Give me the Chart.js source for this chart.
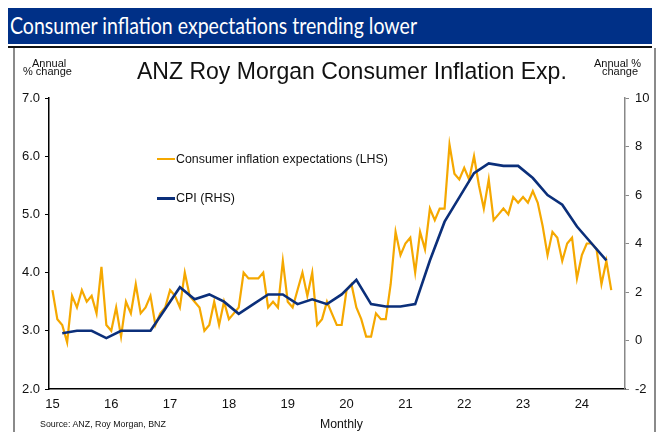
<!DOCTYPE html>
<html>
<head>
<meta charset="utf-8">
<script src="https://cdn.jsdelivr.net/npm/chart.js@4.4.1/dist/chart.umd.min.js"></script>
<style>
  body { margin: 0; background: #fff; }
  #wrap { position: relative; width: 659px; height: 432px; overflow: hidden;
          font-family: "Liberation Sans", Arial, sans-serif; color: #111; }
  #banner { position: absolute; left: 8px; top: 8px; width: 644px; height: 36px; background: #003087; }
  #banner span { position: absolute; left: 2px; top: 5px; color: #fff; font-family: Lato, sans-serif;
                 font-size: 24px; line-height: 1; white-space: nowrap; transform-origin: 0 0; }
  .rule { position: absolute; left: 8px; top: 46px; width: 644px; height: 2px; background: #111; }
  .side { position: absolute; top: 48px; width: 2px; height: 384px; background: #8a8a8a; }
  .t { position: absolute; white-space: nowrap; line-height: 1; }
  .key { position: absolute; height: 2px; width: 18px; }
  canvas { position: absolute; left: 0; top: 0; }
</style>
</head>
<body>
<div id="wrap">
  <div id="banner"><span id="bannerText">Consumer inflation expectations trending lower</span></div>
  <div class="rule"></div>
  <div class="side" style="left:13px"></div>
  <div class="side" style="left:654px"></div>
  <canvas id="chart" width="659" height="432"></canvas>

  <div class="t fit" data-x1="137" data-x2="567" data-cy="71.5">ANZ Roy Morgan Consumer Inflation Exp.</div>
  <div class="t" style="left:32px;top:58px;font-size:11px">Annual</div>
  <div class="t" style="left:23px;top:66px;font-size:11px">% change</div>
  <div class="t" style="left:594px;top:58px;font-size:11px">Annual %</div>
  <div class="t" style="left:602px;top:66px;font-size:11px">change</div>

  <div class="key" style="left:157px;top:158px;background:#F5A800"></div>
  <div class="t fit" data-x1="176" data-x2="388" data-cy="159">Consumer inflation expectations (LHS)</div>
  <div class="key" style="left:157px;top:197px;background:#0B2F7A;height:3px"></div>
  <div class="t fit" data-x1="176" data-x2="235" data-cy="198.5">CPI (RHS)</div>

  <div class="t fit" data-x1="40" data-x2="166" data-cy="424.5">Source: ANZ, Roy Morgan, BNZ</div>
  <div class="t fit" data-x1="320" data-x2="363" data-cy="424">Monthly</div>
</div>

<script>
// year labels shown under each January
const yearTicks = ['15', '16', '17', '18', '19', '20', '21', '22', '23', '24'];

// ANZ Roy Morgan consumer inflation expectations, monthly from Jan 2015 (%)
const expectations = [
  3.7, 3.2, 3.1, 2.8, 3.6, 3.4, 3.7, 3.5, 3.6, 3.3, 4.1, 3.1,
  3.0, 3.4, 2.9, 3.5, 3.3, 3.8, 3.3, 3.4, 3.6, 3.1, 3.3, 3.4,
  3.7, 3.6, 3.4, 4.0, 3.6, 3.5, 3.4, 3.0, 3.1, 3.5, 3.1, 3.5,
  3.2, 3.3, 3.4, 4.0, 3.9, 3.9, 3.9, 4.0, 3.4, 3.5, 3.4, 4.2,
  3.5, 3.4, 3.7, 4.0, 3.6, 4.0, 3.1, 3.2, 3.5, 3.3, 3.1, 3.1,
  3.7, 3.8, 3.4, 3.2, 2.9, 2.9, 3.3, 3.2, 3.2, 3.8, 4.7, 4.3,
  4.5, 4.6, 4.0, 4.7, 4.4, 5.1, 4.9, 5.1, 5.1, 6.2, 5.7, 5.6,
  5.8, 5.6, 6.0, 5.5, 5.1, 5.6, 4.9, 5.0, 5.1, 5.0, 5.3, 5.2,
  5.3, 5.2, 5.4, 5.2, 4.8, 4.3, 4.7, 4.6, 4.2, 4.5, 4.6, 3.9,
  4.3, 4.5, 4.5, 4.4, 3.8, 4.2, 3.7
];

// CPI annual % change, quarterly from Mar 2015 to Jun 2024
const cpi = [
  0.3, 0.4, 0.4, 0.1,
  0.4, 0.4, 0.4, 1.3,
  2.2, 1.7, 1.9, 1.6,
  1.1, 1.5, 1.9, 1.9,
  1.5, 1.7, 1.5, 1.9,
  2.5, 1.5, 1.4, 1.4,
  1.5, 3.3, 4.9, 5.9,
  6.9, 7.3, 7.2, 7.2,
  6.7, 6.0, 5.6, 4.7,
  4.0, 3.3
];
const cpiFirstMonth = 2; // March 2015, months counted from Jan 2015

const expPoints = expectations.map((v, i) => ({ x: i, y: v }));
const cpiPoints = cpi.map((v, q) => ({ x: cpiFirstMonth + 3 * q, y: v }));

// size text blocks so they span the same width as in the source slide
document.querySelectorAll('.fit').forEach(el => {
  el.style.fontSize = '100px';
  const w = el.getBoundingClientRect().width;
  const x1 = +el.dataset.x1, x2 = +el.dataset.x2, cy = +el.dataset.cy;
  const size = 100 * (x2 - x1) / w;
  el.style.fontSize = size + 'px';
  el.style.left = x1 + 'px';
  el.style.top = (cy - 0.49 * size) + 'px';
});
const bt = document.getElementById('bannerText');
bt.style.transform = 'scaleX(' + (407 / bt.getBoundingClientRect().width) + ')';

const tickFont = { family: '"Liberation Sans", Arial, sans-serif', size: 13 };

new Chart(document.getElementById('chart').getContext('2d'), {
  type: 'line',
  data: {
    datasets: [
      {
        label: 'CPI (RHS)',
        data: cpiPoints,
        yAxisID: 'y2',
        borderColor: '#0B2F7A',
        borderWidth: 2.6,
        pointRadius: 0,
        tension: 0,
        order: 0
      },
      {
        label: 'Consumer inflation expectations (LHS)',
        data: expPoints,
        yAxisID: 'y',
        borderColor: '#F5A800',
        borderWidth: 2.2,
        pointRadius: 0,
        tension: 0,
        order: 1
      }
    ]
  },
  options: {
    responsive: false,
    animation: false,
    layout: { padding: { top: 98, left: 0, right: 0, bottom: 0 } },
    plugins: { legend: { display: false }, tooltip: { enabled: false } },
    scales: {
      x: {
        type: 'linear',
        min: -0.7,
        max: 116.8,
        afterBuildTicks: s => { s.ticks = yearTicks.map((t, k) => ({ value: 12 * k })); },
        ticks: {
          callback: (v, i) => yearTicks[i],
          font: tickFont, color: '#111', padding: 8, maxRotation: 0, autoSkip: false
        },
        grid: { display: false, drawTicks: false },
        border: { display: true, color: '#000', width: 1.5 },
        afterFit: s => { s.height = 43; }
      },
      y: {
        position: 'left',
        min: 2, max: 7,
        ticks: { stepSize: 1, callback: v => v.toFixed(1), font: tickFont, color: '#111', padding: 5 },
        grid: { drawOnChartArea: false, tickLength: 4, color: '#000' },
        border: { color: '#000', width: 1.5 },
        afterFit: s => { s.width = 49; }
      },
      y2: {
        position: 'right',
        min: -2, max: 10,
        ticks: { stepSize: 2, font: tickFont, color: '#111', padding: 6 },
        grid: { drawOnChartArea: false, tickLength: 4, color: '#888' },
        border: { color: '#888', width: 1.5 },
        afterFit: s => { s.width = 34; }
      }
    }
  }
});
</script>
</body>
</html>
